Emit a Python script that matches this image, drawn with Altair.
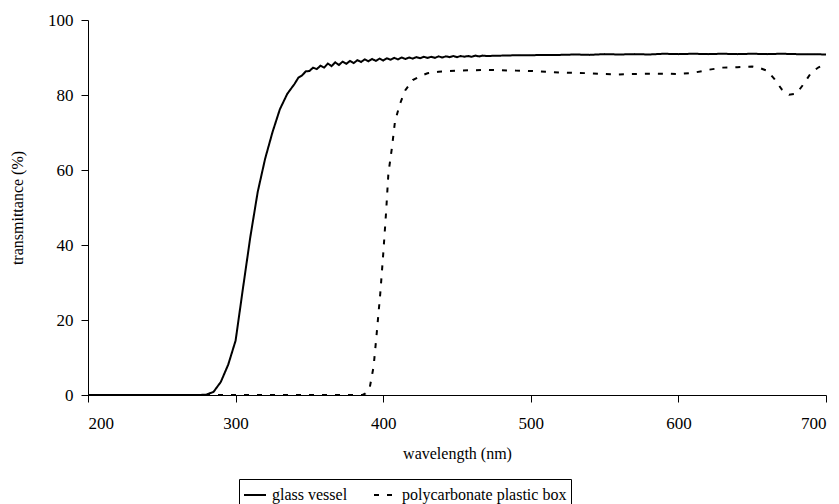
import altair as alt
import pandas as pd

FONT = "Liberation Serif"

# glass vessel: steep rise (5 nm grid)
GLASS_WL_RISE = [200, 250, 270, 275, 280, 285, 290, 295, 300, 305, 310, 315, 320, 325, 330, 335]
GLASS_T_RISE = [0, 0, 0, 0, 0.1, 0.8, 3.5, 8.1, 14.5, 28.5, 42.2, 54.2, 63.0, 70.1, 76.2, 80.3]
# glass vessel: rippled shoulder, 340-470 nm every 2.5 nm
GLASS_T_RIPPLE = [83.0, 84.6, 85.2, 86.3, 86.4, 87.3, 86.9, 87.8, 87.3, 88.4, 87.7, 88.7, 88.0,
                  88.9, 88.3, 89.1, 88.5, 89.3, 88.8, 89.5, 89.0, 89.6, 89.1, 89.7, 89.2, 89.8,
                  89.4, 89.9, 89.5, 90.0, 89.6, 90.0, 89.7, 90.1, 89.8, 90.2, 89.9, 90.2, 89.9,
                  90.3, 90.0, 90.3, 90.1, 90.4, 90.1, 90.4, 90.2, 90.4, 90.2, 90.5, 90.3, 90.5, 90.4]
# glass vessel: plateau, 480-700 nm every 10 nm
GLASS_T_FLAT = [90.5, 90.6, 90.6, 90.7, 90.7, 90.8, 90.7, 90.9, 90.8, 90.9, 90.8, 91.0,
                90.9, 91.0, 90.9, 91.0, 90.9, 91.0, 90.9, 91.0, 90.9, 90.9, 90.8]

POLY_WL = [200, 386, 388, 391, 393.5, 395.5, 398, 400, 402, 403.5, 406, 408, 411.5, 415, 420,
           425, 430, 437.5, 450, 460, 470, 480, 490, 500, 510, 520, 530, 540, 550, 560, 570,
           580, 590, 600, 610, 620, 630, 640, 650, 655, 660, 665, 670, 675, 680, 685, 690, 695, 700]
POLY_T = [0, 0, 0.4, 2.2, 7.6, 16, 27, 37.5, 49, 59, 66.2, 73, 77.8, 81.3, 84, 85.0, 85.8, 86.2,
          86.5, 86.6, 86.7, 86.6, 86.5, 86.4, 86.2, 86.0, 85.9, 85.8, 85.6, 85.5, 85.6, 85.7,
          85.7, 85.6, 85.9, 86.7, 87.3, 87.4, 87.6, 87.2, 86.5, 84.3, 81.5, 80.1, 80.4, 83.0,
          86.0, 87.4, 88.3]

SERIES = ["glass vessel", "polycarbonate plastic box"]

glass_wl = (GLASS_WL_RISE
            + [340 + 2.5 * i for i in range(len(GLASS_T_RIPPLE))]
            + [480 + 10 * i for i in range(len(GLASS_T_FLAT))])
glass_t = GLASS_T_RISE + GLASS_T_RIPPLE + GLASS_T_FLAT

df = pd.concat([
    pd.DataFrame({"wl": glass_wl, "t": glass_t, "series": SERIES[0]}),
    pd.DataFrame({"wl": POLY_WL, "t": POLY_T, "series": SERIES[1]}),
])

AXIS_STYLE = dict(labelFont=FONT, labelFontSize=17, labelColor="black",
                  titleFont=FONT, titleFontSize=16, titleFontWeight="normal",
                  titleColor="black", domainColor="black", tickColor="black",
                  tickSize=7, grid=False)

chart = alt.Chart(df).mark_line(strokeWidth=2, color="black").encode(
    x=alt.X("wl:Q", scale=alt.Scale(domain=[200, 700], nice=False),
            axis=alt.Axis(title="wavelength (nm)", values=[200, 300, 400, 500, 600, 700],
                          labelPadding=13, titlePadding=14, **AXIS_STYLE)),
    y=alt.Y("t:Q", scale=alt.Scale(domain=[0, 100], nice=False),
            axis=alt.Axis(title="transmittance (%)", values=[0, 20, 40, 60, 80, 100],
                          labelPadding=8, titlePadding=22, **AXIS_STYLE)),
    strokeDash=alt.StrokeDash("series:N",
                              scale=alt.Scale(domain=SERIES, range=[[1, 0], [5, 8]]),
                              legend=alt.Legend(orient="none", legendX=151, legendY=459,
                                                direction="horizontal", title=None,
                                                strokeColor="black", padding=4,
                                                symbolType="stroke", symbolSize=484,
                                                symbolStrokeWidth=2, symbolStrokeColor="black",
                                                labelFont=FONT, labelFontSize=16,
                                                labelColor="black", columnPadding=22,
                                                labelOffset=5, labelLimit=400)),
    order="wl:Q",
).properties(
    width=738, height=375,
    autosize=alt.AutoSizeParams(type="none"),
    padding={"left": 80, "top": 12, "right": 5, "bottom": 109},
).configure_view(stroke=None)

chart.save("out.html", embed_options={"renderer": "svg", "actions": False})
